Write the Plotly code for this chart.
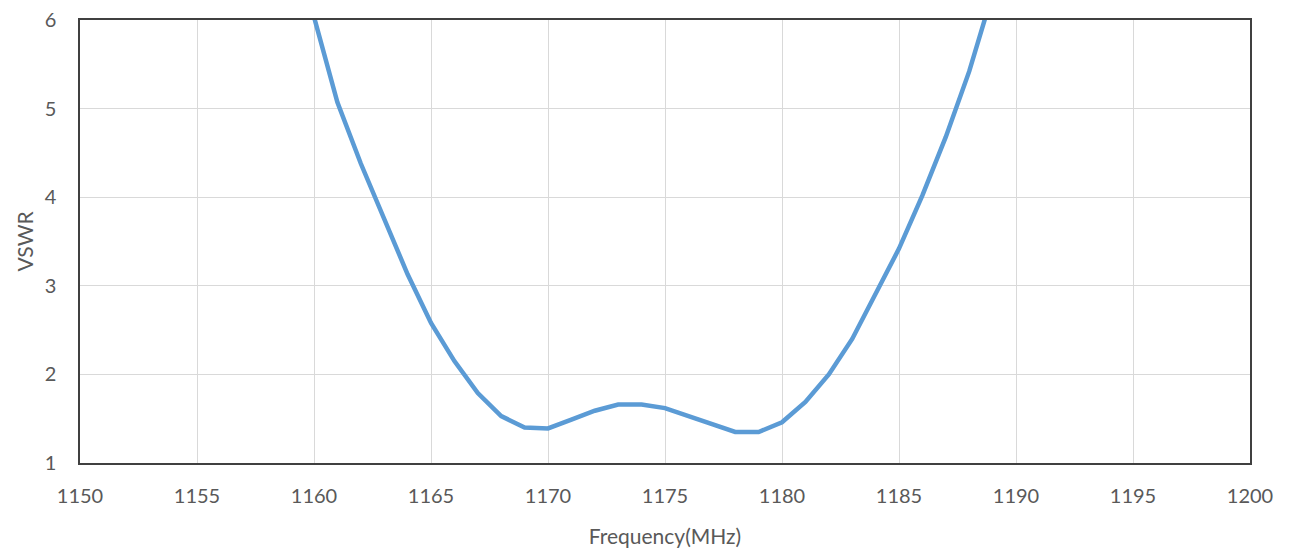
import plotly.graph_objects as go

freq = [1159, 1160, 1161, 1162, 1163, 1164, 1165, 1166, 1167, 1168, 1169, 1170,
        1171, 1172, 1173, 1174, 1175, 1176, 1177, 1178, 1179, 1180, 1181, 1182,
        1183, 1184, 1185, 1186, 1187, 1188, 1189]
vswr = [7.0, 6.03, 5.07, 4.38, 3.76, 3.13, 2.58, 2.15, 1.79, 1.53, 1.40, 1.39,
        1.49, 1.59, 1.66, 1.66, 1.62, 1.53, 1.43, 1.35, 1.35, 1.46, 1.69, 2.0,
        2.4, 2.9, 3.42, 4.02, 4.68, 5.42, 6.3]

x_ticks = [1150, 1155, 1160, 1165, 1170, 1175, 1180, 1185, 1190, 1195, 1200]
y_ticks = [1, 2, 3, 4, 5, 6]

font_fam = "Lato, 'Open Sans', sans-serif"
grey = "#595959"

fig = go.Figure()
fig.add_trace(go.Scatter(x=freq, y=vswr, mode="lines",
                         line=dict(color="#5B9BD5", width=4.5), showlegend=False))

fig.update_layout(
    width=1290, height=552,
    margin=dict(l=72, r=48, t=12, b=97),
    paper_bgcolor="white", plot_bgcolor="white",
    font=dict(family=font_fam, color=grey, size=20),
)
fig.update_xaxes(range=[1150, 1200], tickvals=x_ticks, ticktext=[str(t) for t in x_ticks],
                 showgrid=True, gridcolor="#D9D9D9", gridwidth=1,
                 showline=True, linecolor="#404040", linewidth=1.5, mirror=True,
                 ticks="", zeroline=False, automargin=False, ticklabelstandoff=14,
                 ticklabeloverflow="allow",
                 title=dict(text="Frequency(MHz)", font=dict(size=21, color=grey), standoff=24),
                 tickfont=dict(size=20, color=grey))
fig.update_yaxes(range=[1, 6], tickvals=y_ticks, ticktext=[str(t) for t in y_ticks],
                 showgrid=True, gridcolor="#D9D9D9", gridwidth=1,
                 showline=True, linecolor="#404040", linewidth=1.5, mirror=True,
                 ticks="", zeroline=False, automargin=False, ticklabelstandoff=18,
                 ticklabeloverflow="allow",
                 title=dict(text="VSWR", font=dict(size=21, color=grey), standoff=5),
                 tickfont=dict(size=20, color=grey))

fig.write_html("out.html")
